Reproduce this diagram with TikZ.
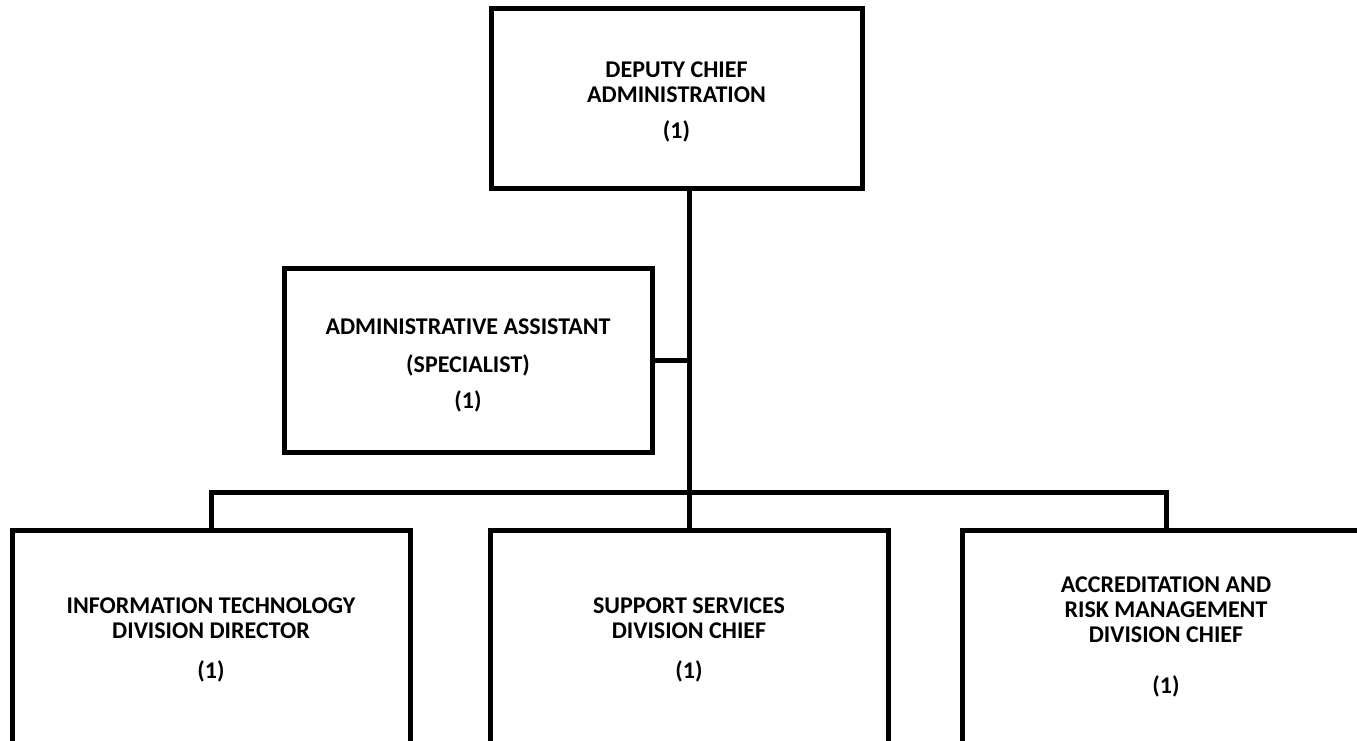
\documentclass[tikz,border=0pt]{standalone}
\usepackage{fontspec}
\setmainfont{Carlito}
\begin{document}
\begin{tikzpicture}[x=1pt,y=-1pt,
  orgbox/.style={draw=black, line width=5pt, fill=white, align=center, inner sep=0pt,
    font=\bfseries\fontsize{24}{25}\selectfont},
  conn/.style={draw=black, line width=5pt}]
\useasboundingbox (0,0) rectangle (1357,740);
\fill[white] (0,0) rectangle (1357,740);
\clip (0,0) rectangle (1357,740);
\node[orgbox, minimum width=371, minimum height=180] (top) at (676.5,98)
  {\rule{0pt}{23pt}DEPUTY CHIEF\\ADMINISTRATION\\[11pt](1)};
\node[orgbox, minimum width=368, minimum height=184] (adm) at (468,360)
  {\rule{0pt}{26pt}ADMINISTRATIVE ASSISTANT\\[13pt](SPECIALIST)\\[11pt](1)};
\node[orgbox, minimum width=398, minimum height=220] (it) at (211,640)
  {INFORMATION TECHNOLOGY\\DIVISION DIRECTOR\\[15pt](1)};
\node[orgbox, minimum width=398, minimum height=220] (ss) at (689,640)
  {SUPPORT SERVICES\\DIVISION CHIEF\\[15pt](1)};
\node[orgbox, minimum width=408, minimum height=214] (arm) at (1166,637)
  {ACCREDITATION AND\\RISK MANAGEMENT\\DIVISION CHIEF\\[26pt](1)};
\coordinate (bus) at (689,492);
\draw[conn] (top.south -| ss.north) -- (ss.north);
\draw[conn] (adm.east) -- (adm.east -| ss.north);
\draw[conn] (it.north) -- (it.north |- bus) -- (arm.north |- bus) -- (arm.north);
\end{tikzpicture}
\end{document}
